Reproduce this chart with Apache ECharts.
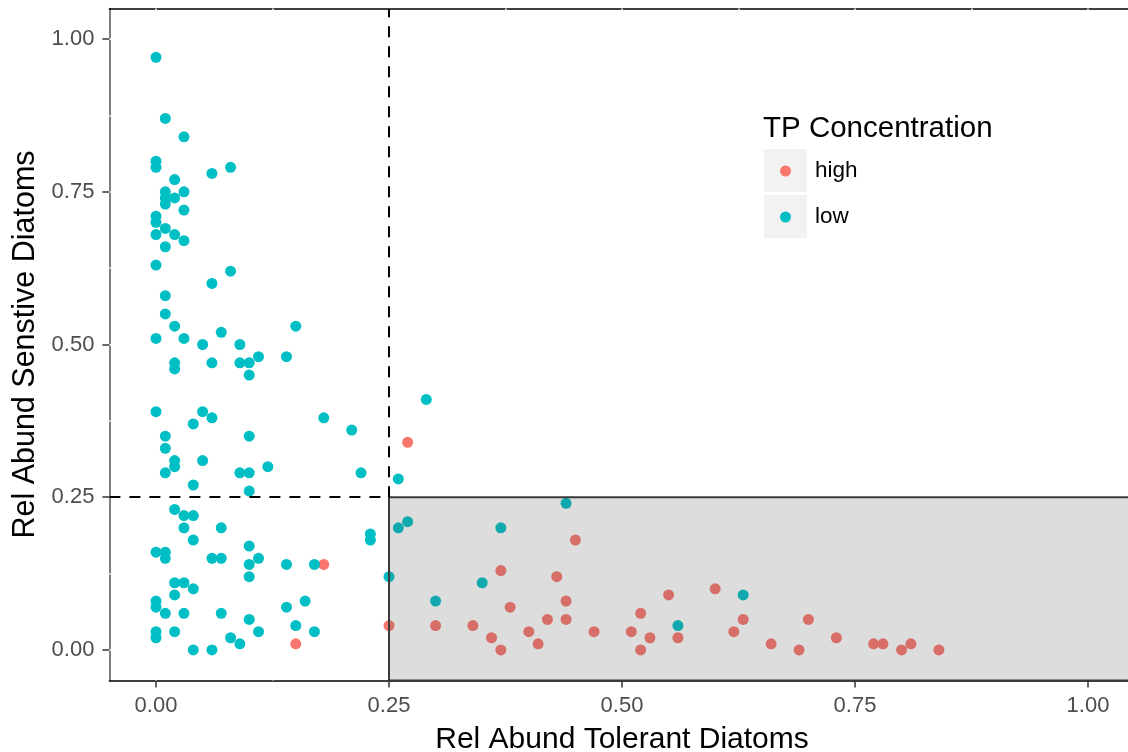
<!DOCTYPE html>
<html>
<head>
<meta charset="utf-8">
<script src="https://cdn.jsdelivr.net/npm/echarts@6/dist/echarts.min.js"></script>
<style>
html,body{margin:0;padding:0;background:#fff;}
#chart{width:1128px;height:752px;}
</style>
</head>
<body>
<div id="chart"></div>
<script>
// ---- data ----
const highX = [0.27,0.18,0.15,0.37,0.43,0.45,0.38,0.44,0.25,0.30,0.34,0.36,0.37,0.40,0.41,0.42,0.44,0.47,0.51,0.52,0.52,0.53,0.55,0.56,0.60,0.62,0.63,0.66,0.69,0.70,0.73,0.77,0.78,0.80,0.81,0.84];
const highY = [0.34,0.14,0.01,0.13,0.12,0.18,0.07,0.08,0.04,0.04,0.04,0.02,0.00,0.03,0.01,0.05,0.05,0.03,0.03,0.06,0.00,0.02,0.09,0.02,0.10,0.03,0.05,0.01,0.00,0.05,0.02,0.01,0.01,0.00,0.01,0.00];

const lowX = [0,0.01,0.03,0,0,0.06,0.08,0.02,0.01,0.01,0.01,0.03,0.02,0.03,0,0,0.01,0,0.02,0.03,0.01,
  0,0.06,0.08,0.01,0.01,0.02,0,0.03,0.05,0.07,0.09,0.15,0.02,0.02,0.06,0.09,0.10,0.10,0.11,0.14,
  0,0.05,0.06,0.04,0.18,0.21,0.29,0.01,0.10,0.01,0.02,0.02,0.05,0.01,0.09,0.10,0.12,0.22,0.26,0.04,0.10,
  0.02,0.03,0.04,0.03,0.07,0.04,0,0.01,0.01,0.06,0.07,0.10,0.10,0.11,0.14,0.17,0.10,0.02,0.03,0.04,0.02,
  0,0,0.01,0.03,0.07,0.16,0.14,0.10,0.15,0.17,0,0,0.02,0.11,0.08,0.09,0.04,0.06,
  0.23,0.23,0.26,0.27,0.37,0.44,0.25,0.35,0.30,0.56,0.63];
const lowY = [0.97,0.87,0.84,0.80,0.79,0.78,0.79,0.77,0.75,0.74,0.73,0.75,0.74,0.72,0.71,0.70,0.69,0.68,0.68,0.67,0.66,
  0.63,0.60,0.62,0.58,0.55,0.53,0.51,0.51,0.50,0.52,0.50,0.53,0.47,0.46,0.47,0.47,0.47,0.45,0.48,0.48,
  0.39,0.39,0.38,0.37,0.38,0.36,0.41,0.35,0.35,0.33,0.31,0.30,0.31,0.29,0.29,0.29,0.30,0.29,0.28,0.27,0.26,
  0.23,0.22,0.22,0.20,0.20,0.18,0.16,0.16,0.15,0.15,0.15,0.17,0.14,0.15,0.14,0.14,0.12,0.11,0.11,0.10,0.09,
  0.08,0.07,0.06,0.06,0.06,0.08,0.07,0.05,0.04,0.03,0.03,0.02,0.03,0.03,0.02,0.01,0.00,0.00,
  0.19,0.18,0.20,0.21,0.20,0.24,0.12,0.11,0.08,0.04,0.09];

const majorTicks = [0, 0.25, 0.5, 0.75, 1];
const minorTicks = [0, 0.125, 0.25, 0.375, 0.5, 0.625, 0.75, 0.875, 1];
const axisMin = -0.05, axisMax = 1.05;
const thresholdX = 0.25, thresholdY = 0.25;
const seriesNames = ['high', 'low'];
const legendTitle = 'TP Concentration';
const xTitle = 'Rel Abund Tolerant Diatoms';
const yTitle = 'Rel Abund Senstive Diatoms';

const pairs = (xs, ys) => xs.map((x, i) => [x, ys[i]]);
const FONT = 'Liberation Sans, Arial, sans-serif';

const chart = echarts.init(document.getElementById('chart'));
const gapAxis = (pos, extra) => Object.assign({
  type: 'value', min: axisMin, max: axisMax, position: pos,
  axisLine: {show: false, onZero: false}, axisLabel: {show: false}, splitLine: {show: false},
  axisTick: {show: true, inside: true, length: 3, customValues: minorTicks,
    lineStyle: {color: '#ffffff', width: 1.5}}
}, extra || {});

chart.setOption({
  animation: false,
  backgroundColor: '#ffffff',
  grid: {left: 109.4, top: 8.5, width: 1025.2, height: 672, containLabel: false, outerBoundsMode: 'none'},
  xAxis: [
    {
      type: 'value', min: axisMin, max: axisMax, position: 'bottom',
      name: xTitle, nameLocation: 'middle', nameGap: 44,
      nameTextStyle: {fontFamily: FONT, fontSize: 30, color: '#000'},
      axisLine: {show: true, onZero: false, lineStyle: {color: '#000', width: 1.5}},
      axisTick: {show: true, length: 7, customValues: majorTicks, lineStyle: {color: '#333', width: 1.5}},
      axisLabel: {show: true, customValues: majorTicks, margin: 14, fontFamily: FONT, fontSize: 22, color: '#4d4d4d',
        formatter: v => v.toFixed(2)},
      splitLine: {show: false}
    },
    gapAxis('bottom'),
    gapAxis('top', {axisLine: {show: true, onZero: false, lineStyle: {color: '#000', width: 1.5}}})
  ],
  yAxis: [
    {
      type: 'value', min: axisMin, max: axisMax, position: 'left',
      name: yTitle, nameLocation: 'middle', nameGap: 62, nameRotate: 90,
      nameTextStyle: {fontFamily: FONT, fontSize: 30.5, color: '#000'},
      axisLine: {show: true, onZero: false, lineStyle: {color: '#555', width: 1.5}},
      axisTick: {show: true, length: 7, customValues: majorTicks, lineStyle: {color: '#333', width: 1.5}},
      axisLabel: {show: true, customValues: majorTicks, margin: 15, fontFamily: FONT, fontSize: 22, color: '#4d4d4d',
        formatter: v => v.toFixed(2)},
      splitLine: {show: false}
    },
    gapAxis('left')
  ],
  legend: {
    orient: 'vertical', left: 780, top: 148, padding: 0, itemGap: 0,
    data: seriesNames, icon: 'circle', itemWidth: 11, itemHeight: 11,
    textStyle: {fontFamily: FONT, fontSize: 22.5, color: '#000', lineHeight: 46, padding: [0, 0, 0, 19]},
    selectedMode: false
  },
  graphic: [
    {type: 'rect', left: 764, top: 149, shape: {width: 43, height: 43}, style: {fill: '#f2f2f2'}, z: 0},
    {type: 'rect', left: 764, top: 195, shape: {width: 43, height: 43}, style: {fill: '#f2f2f2'}, z: 0},
    {type: 'text', left: 763, top: 114, style: {text: legendTitle, font: '29.5px ' + FONT, fill: '#000'}}
  ],
  series: [
    {name: seriesNames[0], type: 'scatter', symbolSize: 11, z: 2,
      itemStyle: {color: '#F8766D', opacity: 1}, data: pairs(highX, highY)},
    {name: seriesNames[1], type: 'scatter', symbolSize: 11, z: 2,
      itemStyle: {color: '#00BFC4', opacity: 1}, data: pairs(lowX, lowY)},
    {name: 'ref', type: 'scatter', data: [], z: 5,
      markArea: {
        silent: true, z: 10,
        itemStyle: {color: 'rgba(85,85,85,0.2)', borderColor: '#3a3a3a', borderWidth: 2},
        label: {show: false},
        data: [[{coord: [thresholdX, axisMin]}, {coord: [axisMax, thresholdY]}]]
      },
      markLine: {
        silent: true, z: 11, symbol: 'none', label: {show: false},
        lineStyle: {color: '#000', width: 2, type: [11, 9]},
        data: [
          [{coord: [axisMin, thresholdY]}, {coord: [thresholdX, thresholdY]}],
          [{coord: [thresholdX, thresholdY]}, {coord: [thresholdX, axisMax]}]
        ]
      }
    }
  ]
});
</script>
</body>
</html>
